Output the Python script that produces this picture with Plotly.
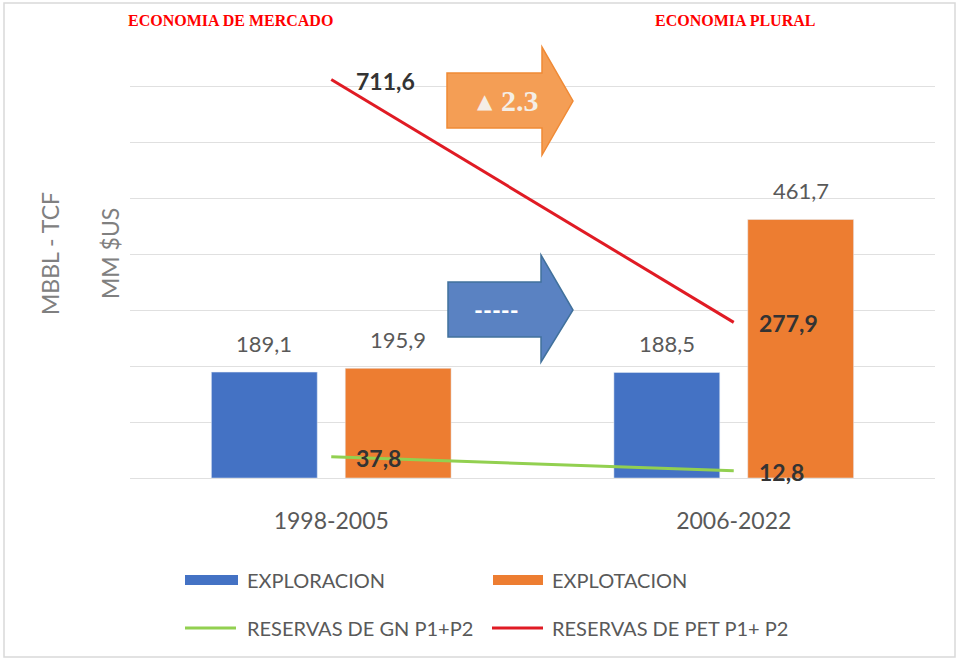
import plotly.graph_objects as go

# ---------------- data ----------------
periods = ["1998-2005", "2006-2022"]
exploracion = [189.1, 188.5]
explotacion = [195.9, 461.7]
reservas_gn = [37.8, 12.8]
reservas_pet = [711.6, 277.9]
series_names = ["EXPLORACION", "EXPLOTACION", "RESERVAS DE GN P1+P2", "RESERVAS DE PET P1+ P2"]
era_titles = ["ECONOMIA DE MERCADO", "ECONOMIA PLURAL"]
axis_titles = ["MBBL - TCF", "MM $US"]
arrow_up_label = "2.3"
arrow_flat_label = "-----"

# ---------------- styling ----------------
BLUE = "#4472C4"
ORANGE = "#ED7D31"
GREEN = "#92D050"
RED = "#E01B24"
GRAY_TXT = "#595959"
FONT = "Lato"

W, H = 966, 660
L, R, T, B = 130, 935, 30, 478


def px(x):
    return (x - L) / (R - L)


def py(y):
    return (B - y) / (B - T)


fig = go.Figure()
fig.add_trace(go.Bar(x=periods, y=exploracion, name=series_names[0], marker_color=BLUE,
                     showlegend=False))
fig.add_trace(go.Bar(x=periods, y=explotacion, name=series_names[1], marker_color=ORANGE,
                     showlegend=False))
fig.add_trace(go.Scatter(x=periods, y=reservas_gn, name=series_names[2], mode="lines",
                         line=dict(color=GREEN, width=3), showlegend=False))
fig.add_trace(go.Scatter(x=periods, y=reservas_pet, name=series_names[3], mode="lines",
                         line=dict(color=RED, width=3), showlegend=False))

annotations = []


def paper_text(xp, yp, text, font, xanchor="center", textangle=0):
    annotations.append(dict(x=px(xp), y=py(yp), xref="paper", yref="paper", showarrow=False,
                            xanchor=xanchor, yanchor="middle", text=text, textangle=textangle,
                            font=font))


# bar value labels
for vals, shift in ((exploracion, -67), (explotacion, 67)):
    for p, v in zip(periods, vals):
        annotations.append(dict(x=p, y=v, xref="x", yref="y", xshift=shift, yshift=13,
                                xanchor="center", yanchor="bottom", showarrow=False,
                                text=f"{v:.1f}".replace(".", ","),
                                font=dict(family=FONT, size=22, color=GRAY_TXT)))
# line value labels
for vals in (reservas_gn, reservas_pet):
    for p, v in zip(periods, vals):
        annotations.append(dict(x=p, y=v, xref="x", yref="y", xshift=23, yshift=-1,
                                xanchor="left", yanchor="middle", showarrow=False,
                                text="<b>" + f"{v:.1f}".replace(".", ",") + "</b>",
                                font=dict(family=FONT, size=23, color="#333333")))
# era titles
for t, xc in zip(era_titles, (230, 735)):
    paper_text(xc, 21, "<b>" + t + "</b>",
               dict(family="Liberation Serif", size=16, color="#FF0000"))
# rotated axis titles
for t, xc in zip(axis_titles, (50, 110)):
    paper_text(xc, 254, t, dict(family=FONT, size=23, color="#808080"), textangle=-90)
# arrow labels
paper_text(485, 101, "▲", dict(family="DejaVu Sans", size=20, color="#F4EEE6"))
paper_text(520, 100, "<b>" + arrow_up_label + "</b>",
           dict(family="Liberation Serif", size=30, color="#F4EEE6"))
paper_text(496, 309, "<b>" + arrow_flat_label + "</b>",
           dict(family=FONT, size=24, color="#FFFFFF"))

shapes = []


def arrow_path(x0, bt, bb, xh, ht, hb, tipx, tipy):
    pts = [(x0, bt), (xh, bt), (xh, ht), (tipx, tipy), (xh, hb), (xh, bb), (x0, bb)]
    return "M " + " L ".join(f"{px(a):.5f},{py(b):.5f}" for a, b in pts) + " Z"


shapes.append(dict(type="path", xref="paper", yref="paper",
                   path=arrow_path(447, 73, 128, 542, 47, 155, 573, 101),
                   fillcolor="#F49E55", line=dict(color="#F08A35", width=1.5), layer="above"))
shapes.append(dict(type="path", xref="paper", yref="paper",
                   path=arrow_path(448, 282, 337, 541, 255, 362, 573, 310),
                   fillcolor="#5A82C2", line=dict(color="#41719C", width=1.5), layer="above"))

# manual legend
legend_items = [
    (series_names[0], "bar", BLUE, 185, 238, 245, 580),
    (series_names[1], "bar", ORANGE, 493, 543, 550, 580),
    (series_names[2], "line", GREEN, 185, 236, 245, 628),
    (series_names[3], "line", RED, 492, 543, 550, 628),
]
for name, kind, col, x0, x1, xt, yc in legend_items:
    if kind == "bar":
        shapes.append(dict(type="rect", xref="paper", yref="paper",
                           x0=px(x0), x1=px(x1), y0=py(yc - 5), y1=py(yc + 5),
                           fillcolor=col, line=dict(width=0)))
    else:
        shapes.append(dict(type="line", xref="paper", yref="paper",
                           x0=px(x0), x1=px(x1), y0=py(yc), y1=py(yc),
                           line=dict(color=col, width=3)))
    paper_text(xt, yc, name, dict(family=FONT, size=20, color=GRAY_TXT), xanchor="left")

# outer frame
shapes.append(dict(type="rect", xref="paper", yref="paper",
                   x0=px(4), x1=px(955), y0=py(657), y1=py(3),
                   fillcolor="rgba(0,0,0,0)", line=dict(color="#D9D9D9", width=1.5)))

fig.update_layout(
    width=W, height=H,
    margin=dict(l=L, r=W - R, t=T, b=H - B, pad=0),
    paper_bgcolor="white", plot_bgcolor="white",
    barmode="group", bargap=0.335, bargroupgap=0.209,
    showlegend=False,
    annotations=annotations, shapes=shapes,
    font=dict(family=FONT, color=GRAY_TXT),
)
fig.update_xaxes(showgrid=False, showline=False, ticks="", zeroline=False,
                 tickfont=dict(family=FONT, size=23, color=GRAY_TXT),
                 ticklabelstandoff=27)
fig.update_yaxes(range=[0, 800], dtick=100, showgrid=True, gridcolor="#E0E0E0", gridwidth=1,
                 zeroline=True, zerolinecolor="#E0E0E0", zerolinewidth=1,
                 showticklabels=False, ticks="")

fig.write_html("out.html", config={"displayModeBar": False},
               post_script="document.body.style.margin='0';document.body.style.overflow='hidden';")
